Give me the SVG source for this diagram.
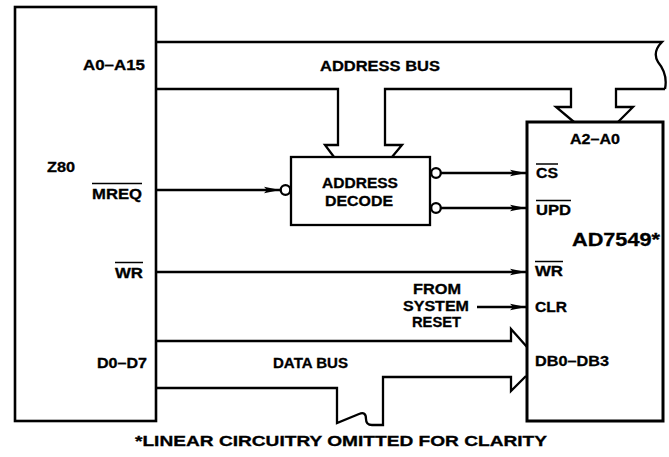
<svg xmlns="http://www.w3.org/2000/svg" width="669" height="457" viewBox="0 0 669 457">
<style>
.box{fill:#fff;stroke:#000;stroke-width:2.6}
.ln{fill:none;stroke:#000;stroke-width:2.3;stroke-linejoin:miter}
.bub{fill:#fff;stroke:#000;stroke-width:2.3}
.ov{stroke:#000;stroke-width:1.5}
text{font-family:"Liberation Sans",Arial,Helvetica,sans-serif;font-weight:bold;font-size:14px;fill:#000;stroke:#000;stroke-width:0.3}
.big{font-size:17.5px}
</style>
<defs>
<marker id="arr" markerUnits="userSpaceOnUse" markerWidth="18" markerHeight="9" refX="16" refY="4" orient="auto">
<path d="M0,0.8 L16,4 L0,7.2 L3,4 z" fill="#000"/>
</marker>
</defs>
<rect width="669" height="457" fill="#fff"/>

<g id="z80">
<rect class="box" x="15" y="7" width="141" height="414"/>
<text x="47" y="172" textLength="28" lengthAdjust="spacingAndGlyphs">Z80</text>
<text x="83" y="70" textLength="62" lengthAdjust="spacingAndGlyphs">A0–A15</text>
<text x="92" y="199" textLength="50" lengthAdjust="spacingAndGlyphs">MREQ</text>
<line class="ov" x1="92" y1="183.5" x2="142" y2="183.5"/>
<text x="115" y="278" textLength="28" lengthAdjust="spacingAndGlyphs">WR</text>
<line class="ov" x1="115" y1="262.5" x2="143" y2="262.5"/>
<text x="97" y="368" textLength="50" lengthAdjust="spacingAndGlyphs">D0–D7</text>
</g>

<g id="decode">
<rect class="box" x="291" y="157" width="139" height="68" style="stroke-width:2.3"/>
<text x="322" y="188" textLength="76" lengthAdjust="spacingAndGlyphs">ADDRESS</text>
<text x="325" y="206" textLength="68" lengthAdjust="spacingAndGlyphs">DECODE</text>
</g>

<g id="ad7549">
<rect class="box" x="527" y="122" width="136" height="299" style="stroke-width:3"/>
<text x="570" y="144" textLength="50" lengthAdjust="spacingAndGlyphs">A2–A0</text>
<text x="536" y="178" textLength="22" lengthAdjust="spacingAndGlyphs">CS</text>
<line class="ov" x1="536" y1="164" x2="558" y2="164"/>
<text x="536" y="215" textLength="35" lengthAdjust="spacingAndGlyphs">UPD</text>
<line class="ov" x1="536" y1="200.5" x2="571" y2="200.5"/>
<text class="big" x="572" y="246" textLength="88" lengthAdjust="spacingAndGlyphs">AD7549*</text>
<text x="535" y="276" textLength="28" lengthAdjust="spacingAndGlyphs">WR</text>
<line class="ov" x1="535" y1="261.5" x2="563" y2="261.5"/>
<text x="535" y="312" textLength="32" lengthAdjust="spacingAndGlyphs">CLR</text>
<text x="535" y="366" textLength="74" lengthAdjust="spacingAndGlyphs">DB0–DB3</text>
</g>

<g id="connectors">
<!-- address bus -->
<path class="ln" d="M156,42 H662 Q652,52 658,62 Q668,74 665,89"/>
<path class="ln" d="M156,89 H338 V145 H325 L334,157"/>
<path class="ln" d="M392,157 L402,145 H385 V89 H571 V107 H556 L574,122"/>
<path class="ln" d="M618,122 L633,107 H616 V89 H665"/>
<!-- data bus -->
<path class="ln" d="M156,341 H511 V329 L527,347"/>
<path class="ln" d="M156,388 H337 V423 L359,414 Q366,411 366,419 Q366,425 372,425 H383 V377 H511 V391 L526,376"/>
<!-- control lines -->
<line class="ln" x1="156" y1="190" x2="280" y2="190" marker-end="url(#arr)"/>
<circle class="bub" cx="285.5" cy="190" r="4.8"/>
<circle class="bub" cx="436" cy="173" r="4.8"/>
<line class="ln" x1="441" y1="173" x2="526" y2="173" marker-end="url(#arr)"/>
<circle class="bub" cx="436" cy="208" r="4.8"/>
<line class="ln" x1="441" y1="208" x2="526" y2="208" marker-end="url(#arr)"/>
<line class="ln" x1="156" y1="272" x2="526" y2="272" marker-end="url(#arr)"/>
<line class="ln" x1="477" y1="307" x2="526" y2="307" marker-end="url(#arr)"/>
</g>

<g id="labels">
<text x="320" y="71" textLength="120" lengthAdjust="spacingAndGlyphs">ADDRESS BUS</text>
<text x="273" y="368" textLength="75" lengthAdjust="spacingAndGlyphs">DATA BUS</text>
<text x="413" y="294" textLength="48" lengthAdjust="spacingAndGlyphs">FROM</text>
<text x="403" y="311" textLength="66" lengthAdjust="spacingAndGlyphs">SYSTEM</text>
<text x="412" y="327" textLength="49" lengthAdjust="spacingAndGlyphs">RESET</text>
<text x="135" y="446" textLength="412" lengthAdjust="spacingAndGlyphs">*LINEAR CIRCUITRY OMITTED FOR CLARITY</text>
</g>
</svg>
